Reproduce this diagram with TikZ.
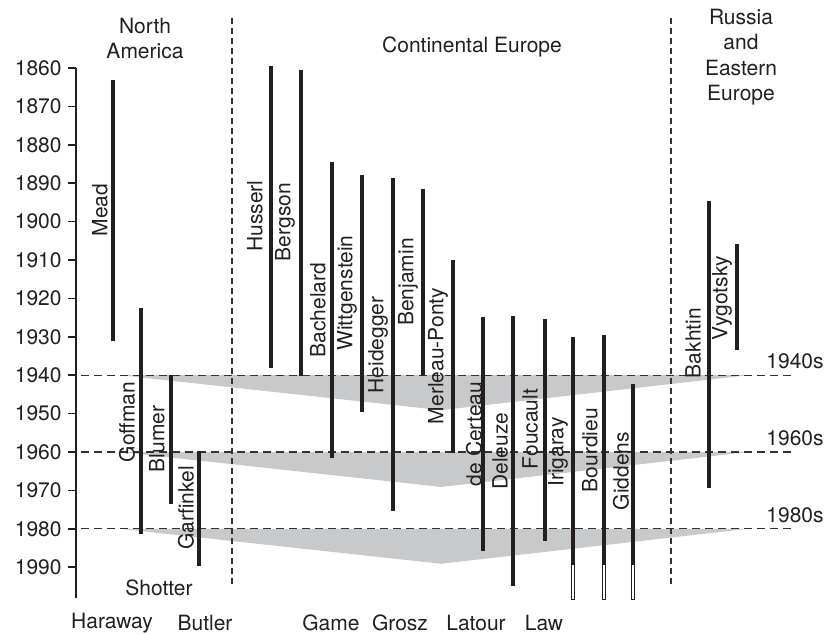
\documentclass[tikz,border=0pt]{standalone}
\usepackage{fontspec}
\setmainfont{TeX Gyre Heros}
\definecolor{ink}{RGB}{35,31,32}
\definecolor{wedgegray}{RGB}{200,201,203}

\begin{document}
\begin{tikzpicture}[line cap=butt,x=0.5pt,y=-0.5pt,
  declare function={yr(\t)=68+(\t-1860)*3.84;},
  bar/.style={color=ink,line width=1.6pt},
  openend/.style={draw=ink,fill=white,line width=0.5pt},
  decade/.style={color=black!80,line width=0.6pt,dash pattern=on 4pt off 2.5pt},
  divider/.style={color=black!80,line width=0.6pt,dash pattern=on 3pt off 2pt},
  thinker/.style={rotate=90,text=ink,inner sep=0pt},
  lbl/.style={text=ink,inner sep=0pt},
  every node/.style={font=\fontsize{10.5}{12.75}\selectfont}]
\useasboundingbox (0,0) rectangle (826,634);

\foreach \d in {1940,1960,1980}
  \fill[wedgegray] (120,{yr(\d)}) -- (441,{yr(\d+9.1)}) -- (748,{yr(\d)}) -- cycle;

\foreach \d in {1940,1960,1980}{
  \draw[decade] (68,{yr(\d)}) -- (792,{yr(\d)});
  \node[lbl] (dec\d) at (795,{yr(\d)-14}) {\d s};
}

\draw[color=ink,line width=0.75pt] (76,{yr(1860)}) -- (76,598);
\foreach \t in {1860,1870,...,1990}{
  \draw[color=ink,line width=0.75pt] (68,{yr(\t)}) -- (76,{yr(\t)});
  \node[lbl,anchor=east] (yr\t) at (62,{yr(\t)}) {\t};
}

\draw[divider] (232,18) -- (232,585);
\draw[divider] (671,18) -- (671,585);

\node[lbl,align=center] (na) at (145,38.5) {North\\America};
\node[lbl] (ce) at (472,47) {Continental Europe};
\node[lbl,align=center] (ree) at (741,57) {Russia\\and\\Eastern\\Europe};

\foreach \x/\a/\b in {113/1863/1931, 141/1922.5/1981.4, 171/1940/1973.5,
    199/1959.7/1989.7, 271/1859.5/1938, 301/1860.5/1940.2, 332/1884.5/1961.6,
    362/1887.9/1949.6, 393/1888.6/1975.4, 423/1891.5/1940.2, 453/1910/1960.3,
    483/1924.8/1985.8, 513/1924.6/1994.9, 545/1925.4/1983.2, 573/1930/1989.4,
    604/1929.5/1989.4, 633/1942.3/1989.4, 709/1894.6/1969.4, 737/1905.8/1933.4}
  \draw[bar] (\x,{yr(\a)}) -- (\x,{yr(\b)});
\foreach \x in {573,604,633}
  \draw[openend] ({\x-1.4},{yr(1989.4)}) rectangle ({\x+1.4},{yr(1998.3)});

\node[thinker] (mead) at (100,210) {Mead};
\node[thinker] (goffman) at (127,422) {Goffman};
\node[thinker] (blumer) at (157,439) {Blumer};
\node[thinker] (garfinkel) at (186,508) {Garfinkel};
\node[thinker] (husserl) at (255,216) {Husserl};
\node[thinker] (bergson) at (285,222) {Bergson};
\node[thinker] (bachelard) at (318,310) {Bachelard};
\node[thinker] (wittgenstein) at (347,293) {Wittgenstein};
\node[thinker] (heidegger) at (378,345) {Heidegger};
\node[thinker] (benjamin) at (408,282) {Benjamin};
\node[thinker] (merleau) at (438,356) {Merleau-Ponty};
\node[thinker] (certeau) at (474,434) {de Certeau};
\node[thinker] (deleuze) at (500,451) {Deleuze};
\node[thinker] (foucault) at (530,429) {Foucault};
\node[thinker] (irigaray) at (558,452) {Irigaray};
\node[thinker] (bourdieu) at (590,450) {Bourdieu};
\node[thinker] (giddens) at (621,471) {Giddens};
\node[thinker] (bakhtin) at (693,343) {Bakhtin};
\node[thinker] (vygotsky) at (722,298) {Vygotsky};

\node[lbl] (shotter) at (159,588) {Shotter};
\node[lbl] (haraway) at (112,623) {Haraway};
\node[lbl] (butler) at (205,623) {Butler};
\node[lbl] (game) at (331,623) {Game};
\node[lbl] (grosz) at (400,623) {Grosz};
\node[lbl] (latour) at (476,623) {Latour};
\node[lbl] (law) at (544,623) {Law};
\end{tikzpicture}
\end{document}
